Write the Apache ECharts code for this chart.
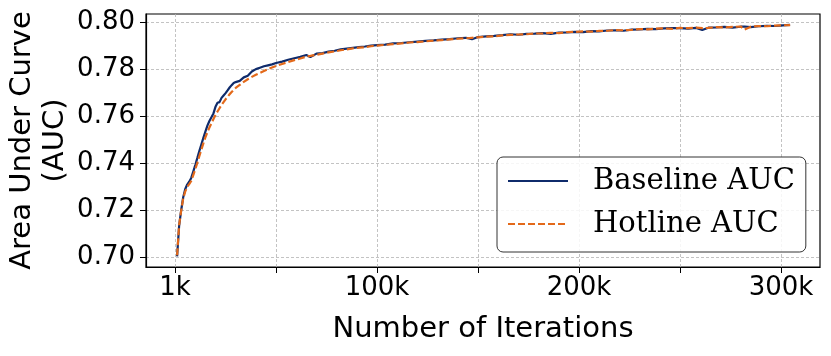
<!DOCTYPE html>
<html>
<head>
<meta charset="utf-8">
<script src="https://cdn.jsdelivr.net/npm/echarts@6/dist/echarts.min.js"></script>
<style>
  html, body { margin: 0; padding: 0; background: #fff; }
  #chart { width: 831px; height: 356px; }
</style>
</head>
<body>
<div id="chart"></div>
<script>
// iterations, in thousands
const iters = [1,2,3,4,5,6,7,8,9,10,11,12,13,14,15,16,17,18,19,20,21,22,23,24,25,26,27,28,29,30,
  32,34,36,38,40,42,44,46,48,50,53,56,59,62,65,67,70,73,76,79,82,85,88,91,94,97,100,
  104,108,112,116,120,124,128,132,136,140,144,147,150,154,158,162,166,170,174,178,182,186,190,
  194,198,202,206,210,214,218,222,226,230,234,238,242,246,250,254,258,261,264,268,272,276,280,
  282,285,289,293,297,301,304.5]

const baselineAuc = [0.7005,0.7135,0.7200,0.7255,0.7290,0.7310,0.7322,0.7338,0.7365,0.7393,0.7422,0.7452,0.7480,0.7508,0.7535,
  0.7560,0.7580,0.7596,0.7612,0.7640,0.7657,0.7660,0.7678,0.7688,0.7698,0.7710,0.7722,0.7732,0.7741,0.7745,
  0.7750,0.7765,0.7772,0.7790,0.7800,0.7806,0.7812,0.7816,0.7820,0.7826,0.7832,0.7840,0.7846,0.7852,0.7860,0.7851,0.7866,
  0.7868,0.7874,0.7878,0.7884,0.7887,0.7890,0.7893,0.7896,0.7900,0.7902,
  0.7904,0.7909,0.7911,0.7914,0.7917,0.7920,0.7922,0.7925,0.7927,0.7931,0.7933,0.7927,0.7936,0.7939,0.7941,0.7944,0.7948,
  0.7946,0.7950,0.7951,0.7953,0.7950,0.7955,0.7956,0.7958,0.7957,0.7961,0.7960,0.7964,0.7965,0.7963,0.7968,0.7969,0.7971,
  0.7970,0.7973,0.7974,0.7974,0.7972,0.7975,0.7966,0.7976,0.7977,0.7979,0.7976,0.7980,0.7981,0.7978,0.7982,0.7984,0.7983,
  0.7986,0.7988]

const hotlineAuc = [0.7010,0.7138,0.7198,0.7250,0.7280,0.7300,0.7312,0.7325,0.7350,0.7375,0.7402,0.7430,0.7458,0.7485,0.7510,
  0.7532,0.7552,0.7570,0.7588,0.7605,0.7620,0.7634,0.7648,0.7660,0.7672,0.7683,0.7693,0.7703,0.7712,0.7720,
  0.7733,0.7746,0.7757,0.7767,0.7776,0.7784,0.7792,0.7800,0.7807,0.7813,0.7822,0.7830,0.7838,0.7845,0.7853,0.7856,0.7861,
  0.7866,0.7871,0.7875,0.7880,0.7884,0.7888,0.7891,0.7893,0.7897,0.7900,
  0.7903,0.7906,0.7909,0.7913,0.7915,0.7918,0.7921,0.7923,0.7926,0.7929,0.7931,0.7933,0.7935,0.7938,0.7939,0.7943,0.7945,
  0.7947,0.7948,0.7951,0.7952,0.7954,0.7953,0.7957,0.7958,0.7960,0.7959,0.7962,0.7963,0.7966,0.7965,0.7967,0.7970,0.7969,
  0.7972,0.7973,0.7971,0.7975,0.7974,0.7976,0.7974,0.7975,0.7978,0.7977,0.7979,0.7981,0.7968,0.7980,0.7983,0.7982,0.7985,
  0.7986,0.7987]

const xTicks = [0,50,100,150,200,250,300]
const xLabels = [0,100,200,300]
const yTicks = [0.70,0.72,0.74,0.76,0.78,0.80]

const navy = '#0f2b6b'
const orange = '#e3691a'
const sans = 'DejaVu Sans'

const chart = echarts.init(document.getElementById('chart'))

const gridLine = { show: true, lineStyle: { color: '#b4b4b4', width: 0.8, type: [3, 2] } }

const option = {
  animation: false,
  grid: {
    left: 146, right: 11, top: 14, bottom: 89,
    show: true, borderColor: '#000', borderWidth: 1.2,
    outerBoundsMode: 'none'
  },
  legend: {
    orient: 'vertical',
    left: 497, top: 157,
    padding: [8, 11, 12, 10],
    itemWidth: 60, itemHeight: 20, itemGap: 11,
    itemStyle: { opacity: 0 },
    backgroundColor: 'rgba(255,255,255,0.85)',
    borderColor: '#333', borderWidth: 1, borderRadius: 6,
    textStyle: { fontFamily: 'DejaVu Serif', fontSize: 29, color: '#000', lineHeight: 32, padding: [0, 0, 0, 20] },
    data: ['Baseline AUC', 'Hotline AUC']
  },
  xAxis: {
    type: 'value',
    min: -14.4, max: 319.3,
    name: 'Number of Iterations',
    nameLocation: 'middle', nameGap: 48,
    nameMoveOverlap: false,
    nameTextStyle: { fontFamily: sans, fontSize: 29, color: '#000' },
    axisLine: { show: true, onZero: false, lineStyle: { color: '#000', width: 1.2 } },
    axisTick: { show: true, length: 6, lineStyle: { color: '#000', width: 1 }, customValues: xTicks },
    axisLabel: {
      customValues: xLabels, margin: 8,
      fontFamily: sans, fontSize: 26, color: '#000',
      formatter: v => v === 0 ? '1k' : v + 'k'
    },
    splitLine: gridLine
  },
  yAxis: {
    type: 'value',
    min: 0.696, max: 0.8034,
    name: 'Area Under Curve\n(AUC)',
    nameLocation: 'middle', nameGap: 74, nameRotate: 90,
    nameMoveOverlap: false,
    nameTextStyle: { fontFamily: sans, fontSize: 29, color: '#000', lineHeight: 33 },
    axisLine: { show: true, onZero: false, lineStyle: { color: '#000', width: 1.2 } },
    axisTick: { show: true, length: 6, lineStyle: { color: '#000', width: 1 }, customValues: yTicks },
    axisLabel: {
      customValues: yTicks, margin: 11,
      fontFamily: sans, fontSize: 26, color: '#000',
      formatter: v => v.toFixed(2)
    },
    splitLine: gridLine
  },
  series: [
    {
      name: 'Baseline AUC', type: 'line', symbol: 'none',
      data: iters.map((x, i) => [x, baselineAuc[i]]),
      lineStyle: { color: navy, width: 2.2 },
      itemStyle: { color: navy }
    },
    {
      name: 'Hotline AUC', type: 'line', symbol: 'none',
      data: iters.map((x, i) => [x, hotlineAuc[i]]),
      lineStyle: { color: orange, width: 2.2, type: [7, 3] },
      itemStyle: { color: orange }
    }
  ]
}

chart.setOption(option)
</script>
</body>
</html>
